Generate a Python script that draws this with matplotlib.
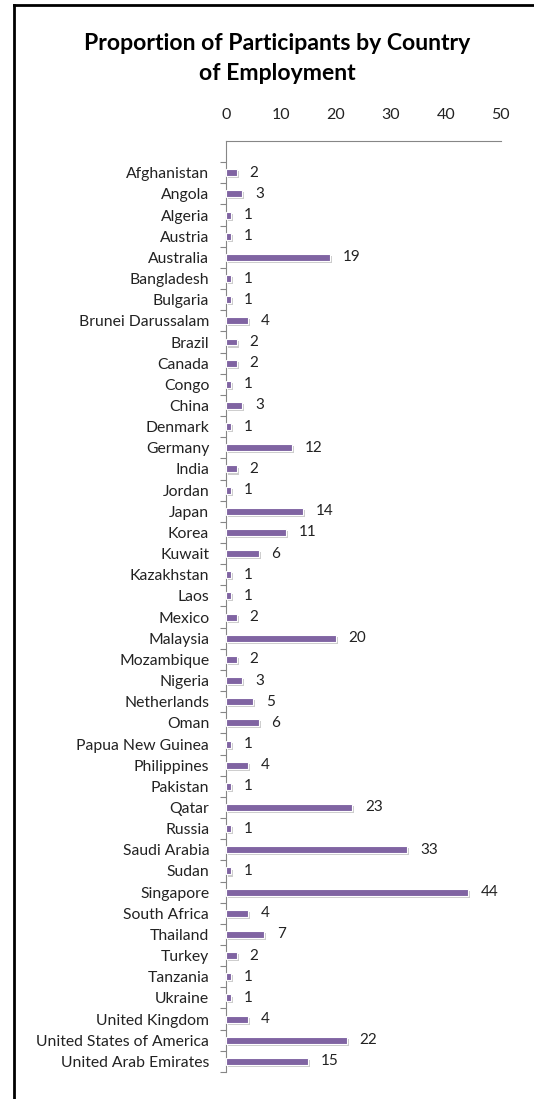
import matplotlib
matplotlib.use('Agg')
import matplotlib.pyplot as plt
import matplotlib.patheffects as pe
from matplotlib.lines import Line2D

countries = ['Afghanistan', 'Angola', 'Algeria', 'Austria', 'Australia',
             'Bangladesh', 'Bulgaria', 'Brunei Darussalam', 'Brazil', 'Canada',
             'Congo', 'China', 'Denmark', 'Germany', 'India', 'Jordan', 'Japan',
             'Korea', 'Kuwait', 'Kazakhstan', 'Laos', 'Mexico', 'Malaysia',
             'Mozambique', 'Nigeria', 'Netherlands', 'Oman', 'Papua New Guinea',
             'Philippines', 'Pakistan', 'Qatar', 'Russia', 'Saudi Arabia', 'Sudan',
             'Singapore', 'South Africa', 'Thailand', 'Turkey', 'Tanzania',
             'Ukraine', 'United Kingdom', 'United States of America',
             'United Arab Emirates']
participants = [2, 3, 1, 1, 19, 1, 1, 4, 2, 2, 1, 3, 1, 12, 2, 1, 14, 11, 6,
                1, 1, 2, 20, 2, 3, 5, 6, 1, 4, 1, 23, 1, 33, 1, 44, 4, 7, 2,
                1, 1, 4, 22, 15]
xticks = [0, 10, 20, 30, 40, 50]

plt.rcParams['font.family'] = ['Lato', 'DejaVu Sans']

fig = plt.figure(figsize=(5.34, 10.99), dpi=100)
ax = fig.add_axes([0.423, 0.0246, 0.515, 0.8471])

pos = list(range(len(countries)))
bars = ax.barh(pos, participants, height=0.33, color='#8064A2',
               edgecolor='white', linewidth=0.8, zorder=3)
for b in bars:
    b.set_path_effects([pe.SimplePatchShadow(offset=(1.5, -1.5), shadow_rgbFace='#9a9a9a', alpha=0.5),
                        pe.Normal()])
ax.bar_label(bars, padding=9, fontsize=11, color='#222222')

ax.set_xlim(0, 50)
ax.set_ylim(len(countries) - 0.5, -1.5)
ax.set_xticks(xticks)
ax.xaxis.tick_top()
ax.tick_params(axis='x', length=0, pad=13.5, labelsize=11.5, colors='#222222')
ax.set_yticks(pos)
ax.set_yticklabels(countries)
ax.tick_params(axis='y', length=0, pad=12, labelsize=11.3, colors='#222222')
# small ticks between the categories
ax.set_yticks([p - 0.5 for p in pos] + [len(countries) - 0.5], minor=True)
ax.tick_params(axis='y', which='minor', length=4, color='#868686', width=0.8)

for s in ['right', 'bottom']:
    ax.spines[s].set_visible(False)
ax.spines['top'].set_color('#868686')
ax.spines['left'].set_color('#868686')
ax.spines['top'].set_linewidth(0.8)
ax.spines['left'].set_linewidth(0.8)

fig.text(0.519, 0.960, 'Proportion of Participants by Country',
         ha='center', va='center', fontsize=16.6, fontweight='bold')
fig.text(0.519, 0.933, 'of Employment',
         ha='center', va='center', fontsize=16.6, fontweight='bold')

# outer frame, left and top edges
fig.add_artist(Line2D([14/534, 14/534], [0, 1 - 4.5/1099], color='black', lw=2,
                      transform=fig.transFigure))
fig.add_artist(Line2D([14/534, 1], [1 - 4.5/1099, 1 - 4.5/1099], color='black', lw=2,
                      transform=fig.transFigure))

fig.savefig('out.png', dpi=100)
